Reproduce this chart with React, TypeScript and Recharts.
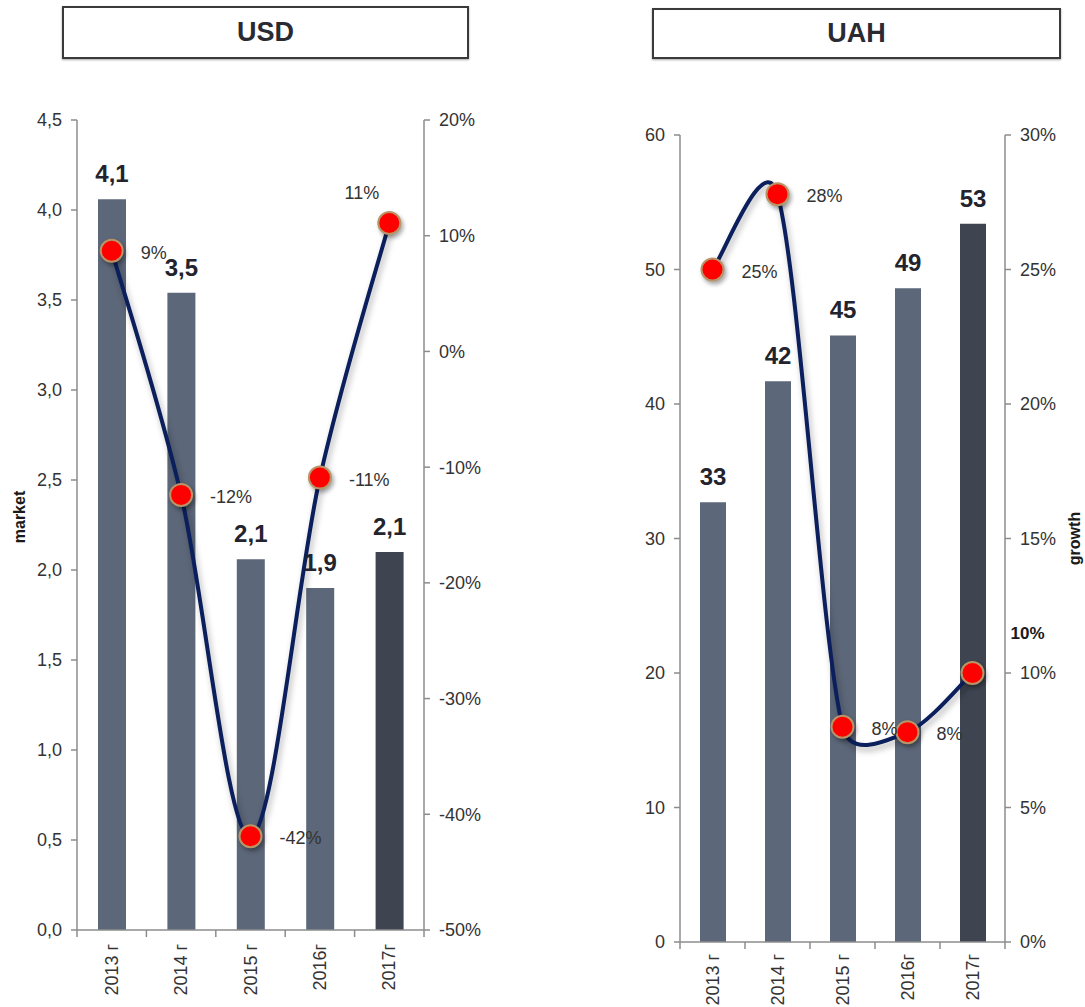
import React from 'react';
import { ComposedChart, Bar, Line, XAxis, YAxis, Cell, LabelList } from 'recharts';

// Categories and values
const YEARS = ['2013 г', '2014 г', '2015 г', '2016г', '2017г'];

const USD_MARKET = [4.06, 3.54, 2.06, 1.9, 2.1];
const USD_GROWTH = [8.7, -12.4, -41.9, -10.9, 11.1];
const USD_MARKET_TICKS = [0, 0.5, 1, 1.5, 2, 2.5, 3, 3.5, 4, 4.5];
const USD_GROWTH_TICKS = [-50, -40, -30, -20, -10, 0, 10, 20];

const UAH_MARKET = [32.7, 41.7, 45.1, 48.6, 53.4];
const UAH_GROWTH = [25.0, 27.8, 8.0, 7.8, 10.0];
const UAH_MARKET_TICKS = [0, 10, 20, 30, 40, 50, 60];
const UAH_GROWTH_TICKS = [0, 5, 10, 15, 20, 25, 30];

const AXIS_COLOR = '#8c8c8c';
const TEXT_COLOR = '#333333';
const BAR_COLOR = '#5c6779';
const BAR_LAST_COLOR = '#3e4450';
const LINE_COLOR = '#0b1f5c';
const FONT = '"Liberation Sans", Arial, sans-serif';

type Placement = { dx: number; dy: number; anchor: 'start' | 'end'; bold?: boolean };

const RIGHT: Placement = { dx: 29, dy: 8, anchor: 'start' };
const USD_PLACEMENT: Placement[] = [RIGHT, RIGHT, RIGHT, RIGHT, { dx: -10, dy: -24, anchor: 'end' }];
const UAH_PLACEMENT: Placement[] = [RIGHT, RIGHT, RIGHT, RIGHT, { dx: 38, dy: -34, anchor: 'start', bold: true }];

// Excel-style smoothed line: cubic bezier segments with 1/6 tangents,
// clamped to half the segment length so steep turns don't overshoot much.
function excelSmooth(context: any) {
  let xs: number[] = [];
  let ys: number[] = [];
  return {
    areaStart() {},
    areaEnd() {},
    lineStart() {
      xs = [];
      ys = [];
    },
    point(x: number, y: number) {
      xs.push(+x);
      ys.push(+y);
    },
    lineEnd() {
      const n = xs.length;
      if (!n) return;
      context.moveTo(xs[0], ys[0]);
      for (let i = 0; i < n - 1; i++) {
        const a = i > 0 ? i - 1 : i;
        const d = i + 2 < n ? i + 2 : i + 1;
        const d12 = Math.hypot(xs[i + 1] - xs[i], ys[i + 1] - ys[i]);
        const d02 = Math.hypot(xs[i + 1] - xs[a], ys[i + 1] - ys[a]);
        const d13 = Math.hypot(xs[d] - xs[i], ys[d] - ys[i]);
        const f1 = d02 / 6 > d12 / 2 ? d12 / 2 / d02 : 1 / 6;
        const f2 = d13 / 6 > d12 / 2 ? d12 / 2 / d13 : 1 / 6;
        context.bezierCurveTo(
          xs[i] + (xs[i + 1] - xs[a]) * f1,
          ys[i] + (ys[i + 1] - ys[a]) * f1,
          xs[i + 1] - (xs[d] - xs[i]) * f2,
          ys[i + 1] - (ys[d] - ys[i]) * f2,
          xs[i + 1],
          ys[i + 1],
        );
      }
    },
  };
}

const renderDot = (props: any) => (
  <circle
    key={`dot-${props.index}`}
    cx={props.cx}
    cy={props.cy}
    r={11}
    fill='#ff0000'
    stroke='#b89466'
    strokeWidth={2}
    style={{ filter: 'drop-shadow(2px 3px 2px rgba(0,0,0,0.35))' }}
  />
);

type PanelProps = {
  left: number;
  width: number;
  top: number;
  plotLeft: number;
  plotWidth: number;
  xAxisHeight: number;
  labelGap: number;
  barSize: number;
  market: number[];
  growth: number[];
  marketTicks: number[];
  growthTicks: number[];
  marketFmt: (v: number) => string;
  barFmt: (v: number) => string;
  placement: Placement[];
  axisTitle: 'market' | 'growth';
};

function Panel(p: PanelProps) {
  const data = YEARS.map((year, i) => ({ year, market: p.market[i], growth: p.growth[i] }));
  const half = p.plotWidth / YEARS.length / 2;
  const rightWidth = p.width - p.plotLeft - p.plotWidth;

  const yearTick = (t: any) => {
    const { x, y, payload, index, visibleTicksCount } = t;
    return (
      <g>
        <line x1={x - half} x2={x - half} y1={y} y2={y + 7} stroke={AXIS_COLOR} strokeWidth={1.5} />
        {index === visibleTicksCount - 1 && (
          <line x1={x + half} x2={x + half} y1={y} y2={y + 7} stroke={AXIS_COLOR} strokeWidth={1.5} />
        )}
        <text
          transform={`translate(${x + 6},${y + p.labelGap}) rotate(-90)`}
          textAnchor='end'
          fill={TEXT_COLOR}
          fontSize={18}
        >
          {payload.value}
        </text>
      </g>
    );
  };

  const growthLabel = (l: any) => {
    const pl = p.placement[l.index];
    return (
      <text
        x={l.x + pl.dx}
        y={l.y + pl.dy}
        textAnchor={pl.anchor}
        fill={pl.bold ? '#1a1a1a' : TEXT_COLOR}
        fontSize={pl.bold ? 17 : 18}
        fontWeight={pl.bold ? 'bold' : 'normal'}
      >
        {`${Math.round(l.value)}%`}
      </text>
    );
  };

  const axisTitle = (l: any) => {
    const vb = l.viewBox;
    const x = p.axisTitle === 'market' ? vb.x + 25 : vb.x + 75;
    const y = p.axisTitle === 'market' ? vb.y + vb.height / 2 - 8 : vb.y + vb.height / 2;
    return (
      <text
        transform={`translate(${x},${y}) rotate(-90)`}
        textAnchor='middle'
        fill='#1a1a1a'
        fontSize={16}
        fontWeight='bold'
      >
        {p.axisTitle}
      </text>
    );
  };

  return (
    <div style={{ position: 'absolute', left: p.left, top: 0 }}>
      <ComposedChart
        width={p.width}
        height={1007}
        data={data}
        margin={{ top: p.top, right: 0, bottom: 0, left: 0 }}
      >
        <XAxis
          dataKey='year'
          interval={0}
          height={p.xAxisHeight}
          tickLine={false}
          tickSize={0}
          tickMargin={0}
          axisLine={{ stroke: AXIS_COLOR, strokeWidth: 1.5 }}
          tick={yearTick}
        />
        <YAxis
          yAxisId='market'
          width={p.plotLeft}
          domain={[p.marketTicks[0], p.marketTicks[p.marketTicks.length - 1]]}
          ticks={p.marketTicks}
          interval={0}
          tickFormatter={p.marketFmt}
          tickSize={6}
          tickMargin={9}
          axisLine={{ stroke: AXIS_COLOR, strokeWidth: 1.5 }}
          tickLine={{ stroke: AXIS_COLOR, strokeWidth: 1.5 }}
          tick={{ fill: TEXT_COLOR, fontSize: 18 }}
          label={p.axisTitle === 'market' ? axisTitle : undefined}
        />
        <YAxis
          yAxisId='growth'
          orientation='right'
          width={rightWidth}
          domain={[p.growthTicks[0], p.growthTicks[p.growthTicks.length - 1]]}
          ticks={p.growthTicks}
          interval={0}
          tickFormatter={(v: number) => `${v}%`}
          tickSize={6}
          tickMargin={9}
          axisLine={{ stroke: AXIS_COLOR, strokeWidth: 1.5 }}
          tickLine={{ stroke: AXIS_COLOR, strokeWidth: 1.5 }}
          tick={{ fill: TEXT_COLOR, fontSize: 18 }}
          label={p.axisTitle === 'growth' ? axisTitle : undefined}
        />
        <Bar yAxisId='market' dataKey='market' barSize={p.barSize} isAnimationActive={false}>
          {data.map((_, i) => (
            <Cell key={i} fill={i === data.length - 1 ? BAR_LAST_COLOR : BAR_COLOR} />
          ))}
          <LabelList
            dataKey='market'
            position='top'
            offset={17}
            formatter={p.barFmt}
            fill='#23232d'
            fontSize={24}
            fontWeight='bold'
          />
        </Bar>
        <Line
          yAxisId='growth'
          dataKey='growth'
          type={excelSmooth as any}
          stroke={LINE_COLOR}
          strokeWidth={4}
          className='growth-line'
          dot={renderDot}
          activeDot={false}
          isAnimationActive={false}
        >
          <LabelList dataKey='growth' content={growthLabel} />
        </Line>
      </ComposedChart>
    </div>
  );
}

const titleBox = (left: number, top: number, width: number, height: number): React.CSSProperties => ({
  position: 'absolute',
  left,
  top,
  width,
  height,
  boxSizing: 'border-box',
  border: '2px solid #3a3a3a',
  boxShadow: '0 1px 2px rgba(0,0,0,0.35)',
  display: 'flex',
  alignItems: 'center',
  justifyContent: 'center',
  fontSize: 27,
  fontWeight: 'bold',
  color: '#2a2a33',
  background: '#fff',
});

export default function App() {
  return (
    <div
      style={{
        position: 'absolute',
        left: 0,
        top: 0,
        width: 1085,
        height: 1007,
        overflow: 'hidden',
        background: '#fff',
        fontFamily: FONT,
      }}
    >
      <style>{`.growth-line .recharts-line-curve { filter: drop-shadow(2px 4px 3px rgba(0,0,0,0.3)); }`}</style>
      <div style={titleBox(62, 6, 407, 53)}>USD</div>
      <div style={titleBox(652, 8, 409, 51)}>UAH</div>

      <Panel
        left={0}
        width={490}
        top={120}
        plotLeft={77}
        plotWidth={347}
        xAxisHeight={77}
        labelGap={14}
        barSize={28}
        market={USD_MARKET}
        growth={USD_GROWTH}
        marketTicks={USD_MARKET_TICKS}
        growthTicks={USD_GROWTH_TICKS}
        marketFmt={(v) => v.toFixed(1).replace('.', ',')}
        barFmt={(v) => v.toFixed(1).replace('.', ',')}
        placement={USD_PLACEMENT}
        axisTitle='market'
      />
      <Panel
        left={590}
        width={495}
        top={135}
        plotLeft={90}
        plotWidth={325}
        xAxisHeight={65}
        labelGap={12}
        barSize={26}
        market={UAH_MARKET}
        growth={UAH_GROWTH}
        marketTicks={UAH_MARKET_TICKS}
        growthTicks={UAH_GROWTH_TICKS}
        marketFmt={(v) => String(v)}
        barFmt={(v) => String(Math.round(v))}
        placement={UAH_PLACEMENT}
        axisTitle='growth'
      />
    </div>
  );
}
